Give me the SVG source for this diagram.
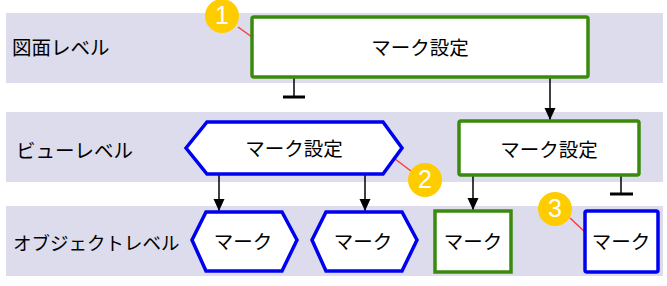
<svg xmlns="http://www.w3.org/2000/svg" width="667" height="286" viewBox="0 0 667 286">
<defs>
<style>
text{font-family:"Noto Sans CJK JP","Liberation Sans",sans-serif;font-size:19.5px;fill:#000;dominant-baseline:central}
.band{fill:#DCDCEC}
.g{fill:#fff;stroke:#3A8A0C;stroke-width:3.5}
.b{fill:#fff;stroke:#0000F0;stroke-width:3.5;stroke-linejoin:miter}
.c{stroke:#000;stroke-width:1.5;fill:none}
.red{stroke:#FF3B3B;stroke-width:1.5}
.badge{fill:#FFCC00}
.num{fill:#fff;font-family:"Liberation Sans",sans-serif;font-size:25px;text-anchor:middle}
.mid{text-anchor:middle}
</style>
<marker id="arr" viewBox="0 0 12 12" refX="12" refY="6" markerWidth="12" markerHeight="12" markerUnits="userSpaceOnUse" orient="auto">
<path d="M0,0.5 L12,6 L0,11.5 z" fill="#000"/>
</marker>
</defs>
<g id="bands">
<rect class="band" x="6" y="13" width="657" height="70"/>
<rect class="band" x="6" y="112" width="657" height="70"/>
<rect class="band" x="6" y="206" width="657" height="70"/>
<text x="12" y="46">図面レベル</text>
<text x="16" y="149">ビューレベル</text>
<text x="13" y="242" style="font-size:18.5px">オブジェクトレベル</text>
</g>
<g id="connectors">
<line class="c" x1="294" y1="78" x2="294" y2="97"/>
<line stroke="#000" stroke-width="3" x1="283" y1="97" x2="305" y2="97"/>
<line class="c" x1="550" y1="78" x2="550" y2="120" marker-end="url(#arr)"/>
<line class="c" x1="219" y1="175" x2="219" y2="211" marker-end="url(#arr)"/>
<line class="c" x1="365" y1="175" x2="365" y2="211" marker-end="url(#arr)"/>
<line class="c" x1="473" y1="176" x2="473" y2="210" marker-end="url(#arr)"/>
<line class="c" x1="621" y1="176" x2="621" y2="194"/>
<line stroke="#000" stroke-width="3" x1="610" y1="194" x2="633" y2="194"/>
<line class="red" x1="238" y1="27" x2="252" y2="37"/>
<line class="red" x1="395" y1="159" x2="411" y2="171"/>
<line class="red" x1="570" y1="218" x2="585" y2="232"/>
</g>
<g id="n1">
<rect class="g" x="252" y="17" width="336" height="60" rx="2"/>
<text class="mid" x="420" y="46">マーク設定</text>
</g>
<g id="n2">
<polygon class="b" points="186,148 207,122 383,122 402,148 383,174 207,174"/>
<text class="mid" x="294" y="147">マーク設定</text>
</g>
<g id="n3">
<rect class="g" x="459" y="121" width="180" height="54" rx="2"/>
<text class="mid" x="549" y="148">マーク設定</text>
</g>
<g id="n4">
<polygon class="b" points="192,240 206,212 282,212 297,240 282,271 206,271"/>
<text class="mid" x="243" y="240">マーク</text>
</g>
<g id="n5">
<polygon class="b" points="312,240 326,212 402,212 417,240 402,271 326,271"/>
<text class="mid" x="363" y="240">マーク</text>
</g>
<g id="n6">
<rect class="g" x="435" y="211" width="76" height="61"/>
<text class="mid" x="473" y="240">マーク</text>
</g>
<g id="n7">
<rect class="b" x="585" y="211" width="73" height="61" rx="2"/>
<text class="mid" x="621" y="240">マーク</text>
</g>
<g id="badges">
<circle class="badge" cx="222" cy="16" r="17"/>
<text class="num" x="222" y="15">1</text>
<circle class="badge" cx="425" cy="180" r="17"/>
<text class="num" x="425" y="179">2</text>
<circle class="badge" cx="555" cy="209" r="17"/>
<text class="num" x="555" y="208">3</text>
</g>
</svg>
